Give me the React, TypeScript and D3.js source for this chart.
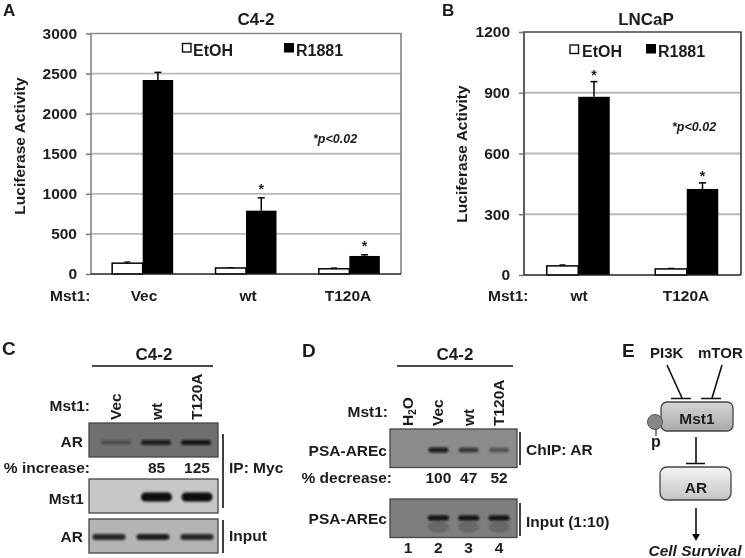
import React, { useEffect, useRef } from 'react';
import * as d3 from 'd3';

// Panel A: C4-2 luciferase
const c42Groups = ['Vec', 'wt', 'T120A'];
const c42Ticks = [0, 500, 1000, 1500, 2000, 2500, 3000];
const c42Etoh = [135, 75, 65];
const c42EtohErr = [150, 80, 75];
const c42R1881 = [2420, 790, 225];
const c42R1881Err = [2515, 950, 240];
const c42Stars = [false, true, true];

// Panel B: LNCaP luciferase
const lncapGroups = ['wt', 'T120A'];
const lncapTicks = [0, 300, 600, 900, 1200];
const lncapEtoh = [45, 30];
const lncapEtohErr = [50, 33];
const lncapR1881 = [880, 425];
const lncapR1881Err = [955, 455];
const lncapStars = [true, true];

// Panel C: band strengths per lane (0-1)
const ipLanes = ['Vec', 'wt', 'T120A'];
const ipArBands = [0.28, 0.85, 0.95];
const ipMst1Bands = [0, 1, 1];
const inputArBands = [0.85, 0.9, 0.85];
const ipIncrease = ['', '85', '125'];

// Panel D
const chipLanes = ['H2O', 'Vec', 'wt', 'T120A'];
const chipBands = [0, 0.9, 0.6, 0.38];
const chipInputBands = [0, 1, 1, 1];
const chipDecrease = ['', '100', '47', '52'];
const chipNumbers = ['1', '2', '3', '4'];

const FONT = '"Liberation Sans", Arial, sans-serif';
const INK = '#1c1c1c';

interface BarPanelProps {
  groups: string[];
  ticks: number[];
  etoh: number[];
  etohErr: number[];
  r1881: number[];
  r1881Err: number[];
  stars: boolean[];
  left: number;
  right: number;
  top: number;
  bottom: number;
  barWidth: number;
  frame: string;
  starGap: number;
}

const YAxis: React.FC<{ scale: d3.ScaleLinear<number, number>; ticks: number[]; left: number }> = ({ scale, ticks, left }) => {
  const ref = useRef<SVGGElement>(null);
  useEffect(() => {
    const g = d3.select(ref.current as SVGGElement);
    g.call(d3.axisLeft(scale).tickValues(ticks).tickSize(5).tickPadding(9).tickFormat(d3.format('d')) as any);
    g.select('.domain').remove();
    g.selectAll('.tick line').attr('stroke', '#777').attr('stroke-width', 1.5);
    g.selectAll('.tick text')
      .attr('fill', INK)
      .style('font-family', FONT)
      .style('font-weight', 'bold')
      .style('font-size', '15.5px');
  }, [scale, ticks]);
  return <g ref={ref} transform={`translate(${left},0)`} />;
};

const BarPanel: React.FC<BarPanelProps> = ({ groups, ticks, etoh, etohErr, r1881, r1881Err, stars, left, right, top, bottom, barWidth, frame, starGap }) => {
  const y = d3.scaleLinear().domain([0, ticks[ticks.length - 1]]).range([bottom, top]);
  const x = d3.scaleBand().domain(groups).range([left, right]);
  const center = (g: string) => (x(g) as number) + x.bandwidth() / 2;
  return (
    <g>
      {ticks.slice(1, -1).map((t) => (
        <line key={t} x1={left} x2={right} y1={y(t)} y2={y(t)} stroke="#b8b8b8" strokeWidth={1.9} />
      ))}
      <path d={`M${right},${bottom} V${top} H${left} V${bottom}`} fill="none" stroke={frame} strokeWidth={1.7} />
      <YAxis scale={y} ticks={ticks} left={left} />
      {groups.map((g, i) => {
        const c = center(g);
        return (
          <g key={g}>
            <line x1={c - barWidth / 2} x2={c - barWidth / 2} y1={y(etoh[i])} y2={y(etohErr[i])} stroke="#000" strokeWidth={1.2} />
            <line x1={c - barWidth / 2 - 3} x2={c - barWidth / 2 + 3} y1={y(etohErr[i])} y2={y(etohErr[i])} stroke="#000" strokeWidth={1.2} />
            <rect x={c - barWidth} width={barWidth} y={y(etoh[i])} height={bottom - y(etoh[i])} fill="#fff" stroke="#000" strokeWidth={1.5} />
            <line x1={c + barWidth / 2} x2={c + barWidth / 2} y1={y(r1881[i])} y2={y(r1881Err[i])} stroke="#000" strokeWidth={1.5} />
            <line x1={c + barWidth / 2 - 3.5} x2={c + barWidth / 2 + 3.5} y1={y(r1881Err[i])} y2={y(r1881Err[i])} stroke="#000" strokeWidth={1.5} />
            <rect x={c} width={barWidth} y={y(r1881[i])} height={bottom - y(r1881[i])} fill="#000" />
            {stars[i] && (
              <text x={c + barWidth / 2} y={y(r1881Err[i]) - starGap} textAnchor="middle" fontSize={14} fontWeight="bold" fill={INK}>*</text>
            )}
          </g>
        );
      })}
      <line x1={left} x2={right} y1={bottom} y2={bottom} stroke="#222" strokeWidth={1.5} />
    </g>
  );
};

interface BlotProps {
  x: number;
  y: number;
  w: number;
  h: number;
  fill: string;
  lanes: string[];
  bands: number[];
  laneRange: [number, number];
  bandY: number;
  bandW: number;
  bandH: number;
  bandColor?: string;
  smear?: boolean;
}

const Blot: React.FC<BlotProps> = ({ x, y, w, h, fill, lanes, bands, laneRange, bandY, bandW, bandH, bandColor = '#0a0a0a', smear }) => {
  const lane = d3.scalePoint().domain(lanes).range(laneRange);
  return (
    <g>
      <rect x={x} y={y} width={w} height={h} fill={fill} stroke="#444" strokeWidth={1.3} />
      {lanes.map((l, i) =>
        bands[i] > 0 ? (
          <g key={l} filter="url(#bandBlur)">
            {smear && (
              <ellipse cx={lane(l)} cy={bandY + 9} rx={bandW / 2} ry={6} fill="#444" opacity={0.4} />
            )}
            <rect
              x={(lane(l) as number) - bandW / 2}
              y={bandY - bandH / 2}
              width={bandW}
              height={bandH}
              rx={bandH / 2}
              fill={bandColor}
              opacity={bands[i]}
            />
          </g>
        ) : null
      )}
    </g>
  );
};

const Label: React.FC<React.SVGProps<SVGTextElement>> = ({ children, ...rest }) => (
  <text fontWeight="bold" fontSize={15.5} fill={INK} {...rest}>{children}</text>
);

const LaneLabel: React.FC<{ x: number; y: number; children: React.ReactNode }> = ({ x, y, children }) => (
  <text transform={`translate(${x},${y}) rotate(-90)`} fontWeight="bold" fontSize={15.5} fill={INK}>{children}</text>
);

const Panels: React.FC = () => {
  const ipLane = d3.scalePoint().domain(ipLanes).range([116, 197]);
  const chipLane = d3.scalePoint().domain(chipLanes).range([408, 499]);
  return (
    <g>
      {/* A */}
      <Label x={3} y={16} fontSize={17}>A</Label>
      <Label x={256} y={25} fontSize={17} textAnchor="middle">C4-2</Label>
      <BarPanel groups={c42Groups} ticks={c42Ticks} etoh={c42Etoh} etohErr={c42EtohErr} r1881={c42R1881} r1881Err={c42R1881Err} stars={c42Stars}
        left={91} right={401} top={33.5} bottom={274} barWidth={30.5} frame="#8a8a8a" starGap={4} />
      <text transform="translate(25,146) rotate(-90)" textAnchor="middle" fontWeight="bold" fontSize={15.5} fill={INK}>Luciferase Activity</text>
      <rect x={182.5} y={43.5} width={8.5} height={8.5} fill="#fff" stroke="#111" strokeWidth={1.4} />
      <Label x={193} y={56} fontSize={16}>EtOH</Label>
      <rect x={284} y={43} width={10} height={9.5} fill="#000" />
      <Label x={296} y={56} fontSize={16}>R1881</Label>
      <Label x={313} y={143} fontSize={12.5} fontStyle="italic">*p&lt;0.02</Label>
      <Label x={50} y={301}>Mst1:</Label>
      {c42Groups.map((g, i) => (
        <Label key={g} x={[144, 248, 348][i]} y={301} textAnchor="middle">{g}</Label>
      ))}

      {/* B */}
      <Label x={442} y={16} fontSize={17}>B</Label>
      <Label x={646} y={25} fontSize={17} textAnchor="middle">LNCaP</Label>
      <BarPanel groups={lncapGroups} ticks={lncapTicks} etoh={lncapEtoh} etohErr={lncapEtohErr} r1881={lncapR1881} r1881Err={lncapR1881Err} stars={lncapStars}
        left={524} right={741} top={32} bottom={275} barWidth={31.5} frame="#444" starGap={1.5} />
      <text transform="translate(467,154) rotate(-90)" textAnchor="middle" fontWeight="bold" fontSize={15.5} fill={INK}>Luciferase Activity</text>
      <rect x={570} y={45} width={8.5} height={8.5} fill="#fff" stroke="#111" strokeWidth={1.4} />
      <Label x={582} y={57} fontSize={16}>EtOH</Label>
      <rect x={646} y={44} width={10} height={9.5} fill="#000" />
      <Label x={658} y={57} fontSize={16}>R1881</Label>
      <Label x={672} y={131} fontSize={12.5} fontStyle="italic">*p&lt;0.02</Label>
      <Label x={488} y={301}>Mst1:</Label>
      {lncapGroups.map((g, i) => (
        <Label key={g} x={[579, 686][i]} y={301} textAnchor="middle">{g}</Label>
      ))}

      {/* C */}
      <Label x={2} y={355} fontSize={19}>C</Label>
      <Label x={154} y={360} fontSize={17} textAnchor="middle">C4-2</Label>
      <line x1={92} x2={213} y1={366} y2={366} stroke="#111" strokeWidth={1.5} />
      <Label x={90} y={411} textAnchor="end">Mst1:</Label>
      {ipLanes.map((l) => (
        <LaneLabel key={l} x={(ipLane(l) as number) + 5} y={420}>{l}</LaneLabel>
      ))}
      <Blot x={89} y={423} w={129} h={34} fill="#6f6f6f" lanes={ipLanes} bands={ipArBands} laneRange={[116, 196]} bandY={442.5} bandW={30} bandH={5} />
      <Blot x={89} y={479} w={129} h={34} fill="#c6c6c6" lanes={ipLanes} bands={ipMst1Bands} laneRange={[116, 197]} bandY={497} bandW={31} bandH={9} />
      <Blot x={89} y={519} w={129} h={34} fill="#b4b4b4" lanes={ipLanes} bands={inputArBands} laneRange={[109, 197]} bandY={537} bandW={33} bandH={6} />
      <Label x={83} y={447} textAnchor="end">AR</Label>
      <Label x={90} y={473} textAnchor="end">% increase:</Label>
      {ipLanes.map((l, i) => (
        <Label key={l} x={ipLane(l)} y={473} textAnchor="middle">{ipIncrease[i]}</Label>
      ))}
      <Label x={84} y={504} textAnchor="end">Mst1</Label>
      <Label x={83} y={542} textAnchor="end">AR</Label>
      <line x1={223} x2={223} y1={434} y2={508} stroke="#111" strokeWidth={1.6} />
      <line x1={223} x2={223} y1={520} y2={553} stroke="#111" strokeWidth={1.6} />
      <Label x={229} y={473}>IP: Myc</Label>
      <Label x={229} y={541}>Input</Label>

      {/* D */}
      <Label x={302} y={357} fontSize={19}>D</Label>
      <Label x={455} y={360} fontSize={17} textAnchor="middle">C4-2</Label>
      <line x1={397} x2={513} y1={366} y2={366} stroke="#111" strokeWidth={1.5} />
      <Label x={388} y={417} textAnchor="end">Mst1:</Label>
      <LaneLabel x={413} y={426}>
        H<tspan fontSize={10} dy={3}>2</tspan><tspan dy={-3}>O</tspan>
      </LaneLabel>
      {chipLanes.slice(1).map((l) => (
        <LaneLabel key={l} x={(chipLane(l) as number) + 5} y={426}>{l}</LaneLabel>
      ))}
      <Blot x={390} y={429} w={127} h={38.5} fill="#8c8c8c" lanes={chipLanes} bands={chipBands} laneRange={[408, 499]} bandY={450} bandW={20} bandH={5} />
      <Blot x={390} y={499} w={127} h={38.5} fill="#7e7e7e" lanes={chipLanes} bands={chipInputBands} laneRange={[408, 499]} bandY={518} bandW={21} bandH={5} smear />
      <Label x={387} y={456} textAnchor="end">PSA-AREc</Label>
      <Label x={387} y={524} textAnchor="end">PSA-AREc</Label>
      <Label x={392} y={483} textAnchor="end">% decrease:</Label>
      {chipLanes.map((l, i) => (
        <Label key={l} x={chipLane(l)} y={483} textAnchor="middle">{chipDecrease[i]}</Label>
      ))}
      {chipLanes.map((l, i) => (
        <Label key={l} x={chipLane(l)} y={553} textAnchor="middle">{chipNumbers[i]}</Label>
      ))}
      <line x1={520} x2={520} y1={432} y2={465} stroke="#111" strokeWidth={1.6} />
      <line x1={520} x2={520} y1={503} y2={536} stroke="#111" strokeWidth={1.6} />
      <Label x={526} y={455}>ChIP: AR</Label>
      <Label x={526} y={527}>Input (1:10)</Label>

      {/* E */}
      <Label x={622} y={357} fontSize={19}>E</Label>
      <Label x={650} y={358} fontSize={15}>PI3K</Label>
      <Label x={698} y={358} fontSize={15}>mTOR</Label>
      <path d="M667,365 L682,398 M671,398.5 H691 M722,365 L712,398 M701,398.5 H721" fill="none" stroke="#111" strokeWidth={1.6} />
      <rect x={661} y={402} width={72} height={29} rx={6} fill="url(#mstFill)" stroke="#444" strokeWidth={1.3} />
      <Label x={697} y={424} textAnchor="middle">Mst1</Label>
      <line x1={656} x2={656} y1={428} y2={436} stroke="#333" strokeWidth={1.2} />
      <circle cx={655} cy={422} r={7.5} fill="#858585" stroke="#555" strokeWidth={1} />
      <Label x={656} y={447} textAnchor="middle" fontSize={16}>p</Label>
      <path d="M696,437 V463 M686,463.5 H705" fill="none" stroke="#111" strokeWidth={1.6} />
      <rect x={660} y={467} width={71} height={33} rx={7} fill="url(#arFill)" stroke="#444" strokeWidth={1.3} />
      <Label x={696} y={493} textAnchor="middle">AR</Label>
      <line x1={696} x2={696} y1={508} y2={535} stroke="#111" strokeWidth={1.6} />
      <path d="M692,534 L700,534 L696,541 Z" fill="#111" />
      <Label x={695} y={556} textAnchor="middle" fontStyle="italic">Cell Survival</Label>
    </g>
  );
};

const App: React.FC = () => (
  <svg width={745} height={558} viewBox="0 0 745 558" fontFamily={FONT}
    style={{ position: 'absolute', left: 0, top: 0, background: '#fff' }}>
    <defs>
      <filter id="bandBlur" x="-30%" y="-60%" width="160%" height="220%">
        <feGaussianBlur stdDeviation="1" />
      </filter>
      <filter id="soft" x="0" y="0" width="100%" height="100%">
        <feGaussianBlur stdDeviation="0.35" />
      </filter>
      <linearGradient id="mstFill" x1="0" y1="0" x2="0" y2="1">
        <stop offset="0" stopColor="#d4d4d4" />
        <stop offset="1" stopColor="#aaaaaa" />
      </linearGradient>
      <linearGradient id="arFill" x1="0" y1="0" x2="0" y2="1">
        <stop offset="0" stopColor="#f4f4f4" />
        <stop offset="1" stopColor="#c4c4c4" />
      </linearGradient>
    </defs>
    <g filter="url(#soft)">
      <rect width={745} height={558} fill="#fff" />
      <Panels />
    </g>
  </svg>
);

export default App;
